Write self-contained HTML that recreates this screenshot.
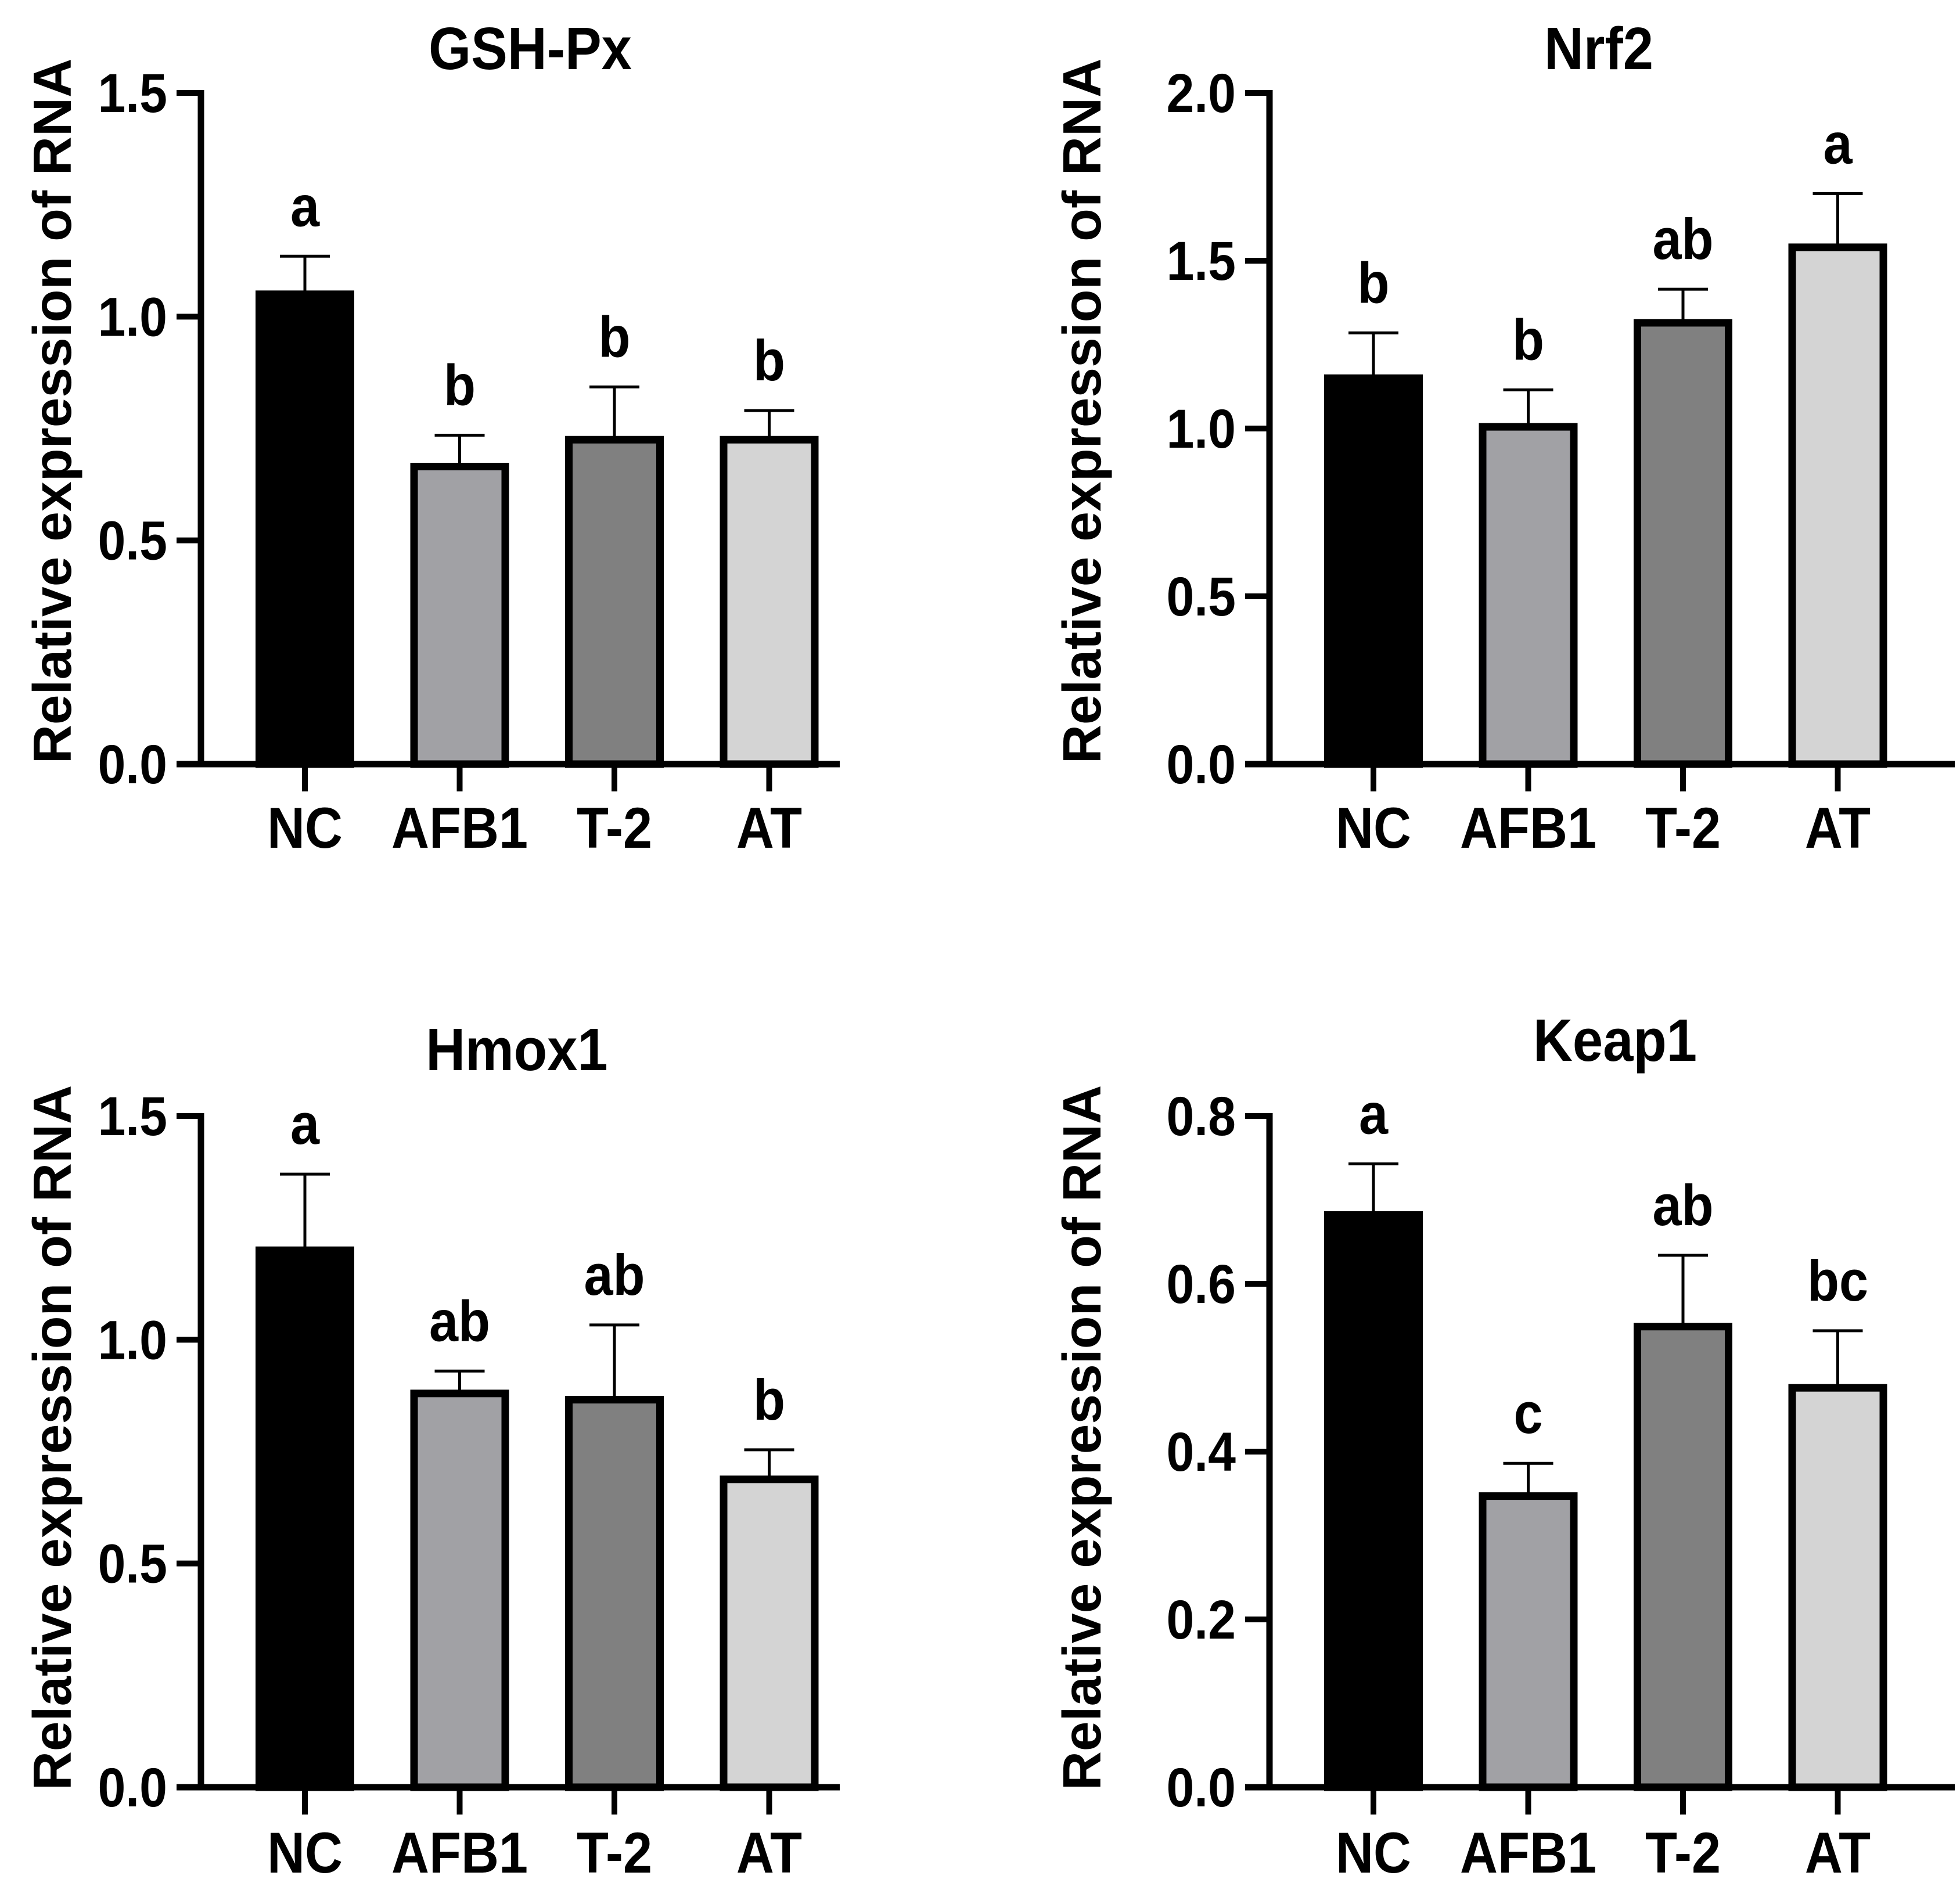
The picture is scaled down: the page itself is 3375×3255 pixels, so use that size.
<!DOCTYPE html>
<html><head><meta charset="utf-8"><style>
html,body{margin:0;padding:0;background:#fff;}
svg{display:block;}
text{font-family:"Liberation Sans",Arial,sans-serif;font-weight:bold;fill:#000;}
</style></head>
<body>
<svg id="fig" width="3375" height="3255" viewBox="0 0 3375 3255" xmlns="http://www.w3.org/2000/svg"></svg>
<script>
const categories = ["NC","AFB1","T-2","AT"];
const gshValues = [1.05, 0.665, 0.725, 0.725];
const gshErrors = [0.085, 0.07, 0.118, 0.065];
const gshLetters = ["a","b","b","b"];
const nrf2Values = [1.15, 1.005, 1.315, 1.54];
const nrf2Errors = [0.135, 0.11, 0.1, 0.16];
const nrf2Letters = ["b","b","ab","a"];
const hmoxValues = [1.2, 0.88, 0.866, 0.688];
const hmoxErrors = [0.17, 0.05, 0.167, 0.066];
const hmoxLetters = ["a","ab","ab","b"];
const keapValues = [0.682, 0.347, 0.549, 0.476];
const keapErrors = [0.061, 0.039, 0.085, 0.068];
const keapLetters = ["a","c","ab","bc"];
const gshTicks = ["0.0","0.5","1.0","1.5"];
const nrf2Ticks = ["0.0","0.5","1.0","1.5","2.0"];
const hmoxTicks = ["0.0","0.5","1.0","1.5"];
const keapTicks = ["0.0","0.2","0.4","0.6","0.8"];

const NS="http://www.w3.org/2000/svg";
const svg=document.getElementById('fig');
const fills=["#000000","#a1a1a5","#808080","#d4d4d4"];
function mk(tag,attrs,parent){const e=document.createElementNS(NS,tag);for(const k in attrs)e.setAttribute(k,attrs[k]);(parent||svg).appendChild(e);return e;}
function txt(parent,x,y,s,fs,anchor,sy){
  const g=mk('g',{transform:`translate(${x},${y}) scale(1,${sy||1.1})`},parent);
  const t=mk('text',{x:0,y:0,'font-size':fs,'text-anchor':anchor||'middle'},g);
  t.textContent=s;return t;
}
function panel(cfg){
  const g=mk('g',{});
  
  
  const ax=cfg.ax, y0=cfg.y0, yTop=cfg.yTop, ymax=cfg.ymax;
  const yScale=v=>y0-(v/ymax)*(y0-yTop);
  const xScale=i=>ax+179+i*266.5;
  const tt=txt(g,cfg.titleX,cfg.titleY,cfg.title,94,'middle');
  
  
  const yt=mk('text',{x:0,y:0,'font-size':93,'text-anchor':'middle',transform:`translate(${cfg.ytX},${cfg.ytY}) rotate(-90)`},g);
  yt.textContent="Relative expression of RNA";
  
  
  cfg.values.forEach((v,i)=>{
    const cx=xScale(i), w=157;
    const top=yScale(v), et=yScale(v+cfg.errors[i]);
    const el=mk('line',{x1:cx,x2:cx,y1:top,y2:et,stroke:'#000','stroke-width':5},g);
    
    
    const cap=mk('line',{x1:cx-43,x2:cx+43,y1:et,y2:et,stroke:'#000','stroke-width':5},g);
    
    
    const r=mk('rect',{x:cx-w/2,y:top,width:w,height:y0-top,fill:fills[i],stroke:'#000','stroke-width':13},g);
    
    
    const lt=txt(g,cx,et-52,cfg.letters[i],90,'middle');
    
    
    const tk=mk('line',{x1:cx,x2:cx,y1:y0,y2:y0+47,stroke:'#000','stroke-width':10},g);
    
    
    const xl=txt(g,cx,cfg.xlY,categories[i],90,'middle');
    
    
  });
  const ya=mk('line',{x1:ax,x2:ax,y1:yTop-5,y2:y0+5,stroke:'#000','stroke-width':11},g);
  
  
  const xa=mk('line',{x1:ax-42,x2:ax+cfg.xEnd,y1:y0,y2:y0,stroke:'#000','stroke-width':11},g);
  
  
  cfg.ticks.forEach((s,i)=>{
    const v=i*ymax/(cfg.ticks.length-1), y=yScale(v);
    const tl=mk('line',{x1:ax-42,x2:ax,y1:y,y2:y,stroke:'#000','stroke-width':10},g);
    
    
    const lab=txt(g,ax-58,y+33,s,86,'end');
    
    
  });
}
panel({name:'gsh-px',title:'GSH-Px',ax:346,y0:1316,yTop:160,ymax:1.5,values:gshValues,errors:gshErrors,letters:gshLetters,ticks:gshTicks,titleX:913,titleY:119,ytX:122,ytY:708,xlY:1460,xEnd:1100});
panel({name:'nrf2',title:'Nrf2',ax:2186,y0:1316,yTop:160,ymax:2.0,values:nrf2Values,errors:nrf2Errors,letters:nrf2Letters,ticks:nrf2Ticks,titleX:2753,titleY:119,ytX:1895,ytY:708,xlY:1460,xEnd:1180});
panel({name:'hmox1',title:'Hmox1',ax:346,y0:3078,yTop:1922,ymax:1.5,values:hmoxValues,errors:hmoxErrors,letters:hmoxLetters,ticks:hmoxTicks,titleX:890,titleY:1843,ytX:122,ytY:2476,xlY:3225,xEnd:1100});
panel({name:'keap1',title:'Keap1',ax:2186,y0:3078,yTop:1922,ymax:0.8,values:keapValues,errors:keapErrors,letters:keapLetters,ticks:keapTicks,titleX:2781,titleY:1827,ytX:1895,ytY:2476,xlY:3225,xEnd:1180});
</script>
</body></html>
